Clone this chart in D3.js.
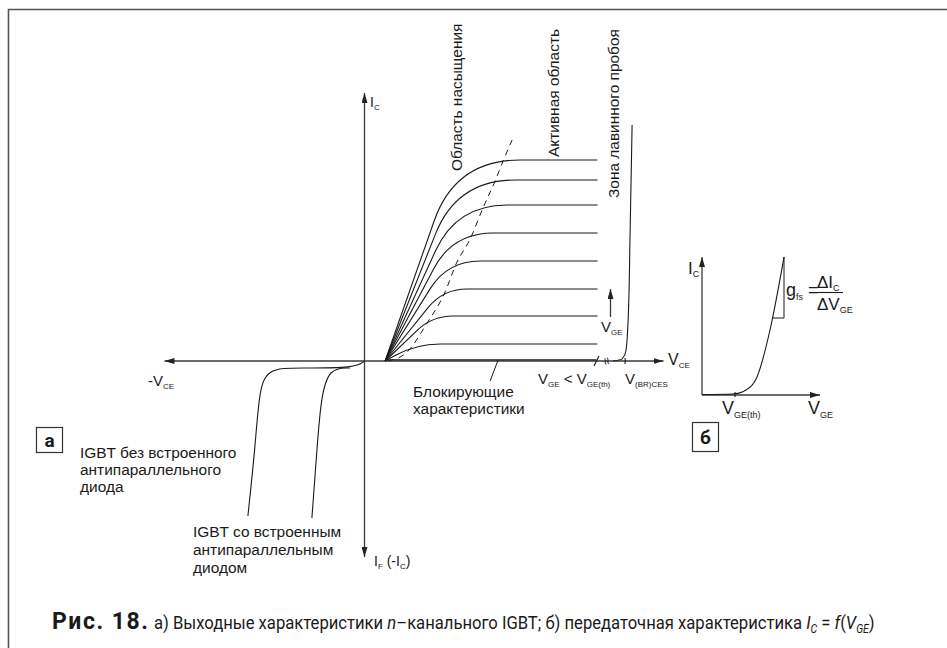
<!DOCTYPE html>
<html>
<head>
<meta charset="utf-8">
<script src="https://cdn.jsdelivr.net/npm/d3@7"></script>
<style>
  body { margin: 0; background: #fff; }
  text { font-family: "Liberation Sans", Arial, sans-serif; fill: #1a1a1a; }
</style>
</head>
<body>
<svg id="fig" width="947" height="648"></svg>
<script>
// ---- Output characteristics I_C(V_CE), one curve per gate voltage step ----
const satCurrent   = [10.05, 9.05, 7.8, 6.4, 5.0, 3.6, 2.25, 0.85];
const cornerVce    = [4.55, 4.62, 4.6, 4.4, 4.15, 3.93, 3.38, 2.58];
const flatStartVce = [7.78, 7.53, 7.13, 6.43, 5.78, 5.13, 4.43, 3.78];
const kneeVce = 1.03;          // curves leave the V_CE axis here
const flatEndVce = 11.65;      // right end of the family
const blockingCurrent = 0.06;  // blocking characteristic, V_GE < V_GE(th)

// saturation / active region boundary (dashed)
const boundary = [[1.18, 0], [2.13, 0.45], [3.13, 1.9], [4.03, 3.45], [4.58, 4.85],
                  [5.33, 6.2], [5.88, 7.55], [6.53, 9.0], [6.93, 10.0], [7.38, 11.05]];
// avalanche breakdown branch
const breakdown = [[12.43, 0], [12.88, 0.1], [13.08, 0.55], [13.18, 2.05], [13.28, 6.4], [13.38, 11.8]];
// reverse conduction: without / with the built-in antiparallel diode
const diodeOuter = [[0, 0], [-0.43, -0.35], [-3.23, -0.35], [-4.93, -0.35], [-5.28, -1.7], [-5.48, -4.45], [-5.83, -7.75]];
const diodeInner = [[-0.73, -0.35], [-1.78, -0.35], [-2.18, -1.85], [-2.38, -4.45], [-2.63, -7.85]];
const vceRange = [-10, 14.95];
const icRange  = [-9.8, 13.4];
const breakVce = 11.6, breakdownVce = 13.03;

// ---- Transfer characteristic I_C(V_GE) ----
const transfer = [[0, 0.05], [3.1, 0.1], [4.4, 0.5], [5.5, 1.8], [6.8, 6.5], [8.2, 13.8]];
const gfsTriangle = [[7.1, 7.7], [8.2, 7.7], [8.2, 13.8]];
const vgeThreshold = 3.3;
const vgeRange = [0, 11.8];
const icTransferRange = [0, 13.8];

const svg = d3.select("#fig");
const INK = "#1a1a1a", AXIS = "#3a3a3a";

// arrowhead
const defs = svg.append("defs");
defs.append("marker").attr("id", "arr")
  .attr("viewBox", "0 0 10 10").attr("refX", 10).attr("refY", 5)
  .attr("markerWidth", 10).attr("markerHeight", 6)
  .attr("markerUnits", "userSpaceOnUse").attr("preserveAspectRatio", "none")
  .attr("orient", "auto")
  .append("path").attr("d", "M0,0 L10,5 L0,10 Z").attr("fill", "#222");

// frame
svg.append("path").attr("d", "M8.5,648 V9.5 H947")
  .attr("fill", "none").attr("stroke", "#555").attr("stroke-width", 1.6);

// body text size: fit the Arial-like face to the set width of the labels
const probe = svg.append("g").attr("opacity", 0);
const probes = [["IGBT без встроенного", 158], ["Блокирующие", 105],
                ["Зона лавинного пробоя", 160], ["Область насыщения", 148]];
let ratio = 0;
probes.forEach(([s, w]) => {
  const t = probe.append("text").style("font-size", "15px").text(s);
  ratio += w / t.node().getComputedTextLength();
});
probe.remove();
const FS = Math.max(14, Math.min(18, 15 * ratio / probes.length));

// ---- panel a scales ----
const x = d3.scaleLinear().domain(vceRange).range([164.5, 663.5]);
const y = d3.scaleLinear().domain(icRange).range([557, 93]);

const gA = svg.append("g");

// axes
function axisLine(g, x1, y1, x2, y2) {
  g.append("line").attr("x1", x1).attr("y1", y1).attr("x2", x2).attr("y2", y2)
    .attr("stroke", AXIS).attr("stroke-width", 1.3).attr("marker-end", "url(#arr)");
}
axisLine(gA, x(0), y(0), x(vceRange[0]), y(0));
axisLine(gA, x(0), y(0), x(vceRange[1]), y(0));
axisLine(gA, x(0), y(0), x(0), y(icRange[1]));
axisLine(gA, x(0), y(0), x(0), y(icRange[0]));

// output curve family: straight rise, rounded knee, flat saturation
satCurrent.forEach((ic, i) => {
  const S = [x(kneeVce), y(0)];
  const C = [x(cornerVce[i]), y(ic)];
  const P2 = [x(flatStartVce[i]), y(ic)];
  const E = [x(flatEndVce), y(ic)];
  const leg = P2[0] - C[0];
  const dS = Math.hypot(S[0] - C[0], S[1] - C[1]);
  const d1 = Math.min(leg, 0.7 * dS);
  const P1 = [C[0] + (S[0] - C[0]) * d1 / dS, C[1] + (S[1] - C[1]) * d1 / dS];
  const p = d3.path();
  p.moveTo(S[0], S[1]);
  p.lineTo(P1[0], P1[1]);
  p.quadraticCurveTo(C[0], C[1], P2[0], P2[1]);
  p.lineTo(E[0], E[1]);
  gA.append("path").attr("d", p.toString())
    .attr("fill", "none").attr("stroke", INK).attr("stroke-width", 1.1);
});

// blocking characteristic
gA.append("line").attr("x1", x(kneeVce)).attr("x2", x(breakVce))
  .attr("y1", y(blockingCurrent)).attr("y2", y(blockingCurrent))
  .attr("stroke", INK).attr("stroke-width", 1.2);

// saturation boundary
gA.append("path").datum(boundary)
  .attr("d", d3.line().x(d => x(d[0])).y(d => y(d[1])).curve(d3.curveMonotoneX))
  .attr("fill", "none").attr("stroke", INK).attr("stroke-width", 1)
  .attr("stroke-dasharray", "6,5");

// breakdown branch
gA.append("path").datum(breakdown)
  .attr("d", d3.line().x(d => x(d[0])).y(d => y(d[1])).curve(d3.curveMonotoneY))
  .attr("fill", "none").attr("stroke", INK).attr("stroke-width", 1.1);

// reverse branches
const lineBasis = d3.line().x(d => x(d[0])).y(d => y(d[1])).curve(d3.curveBasis);
[diodeOuter, diodeInner].forEach(d => {
  gA.append("path").datum(d).attr("d", lineBasis)
    .attr("fill", "none").attr("stroke", INK).attr("stroke-width", 1.1);
});

// axis break and V(BR)CES tick
gA.append("line").attr("x1", x(breakVce) - 2.5).attr("x2", x(breakVce) + 2.5)
  .attr("y1", y(0) + 5).attr("y2", y(0) - 5).attr("stroke", INK).attr("stroke-width", 1.1);
gA.append("text").attr("transform", `translate(${x(breakVce) + 10},${y(0)}) rotate(75)`)
  .attr("text-anchor", "middle").attr("dy", "0.32em")
  .style("font-size", "13px").text("≈");
gA.append("line").attr("x1", x(breakdownVce)).attr("x2", x(breakdownVce))
  .attr("y1", y(0) - 3).attr("y2", y(0) + 3).attr("stroke", INK).attr("stroke-width", 1.1);

// V_GE increase arrow
axisLine(gA, x(12.3), y(2.2), x(12.3), y(3.6));

// leader for blocking label
gA.append("line").attr("x1", x(6.68)).attr("x2", x(6.28))
  .attr("y1", y(0.05)).attr("y2", y(-1.0))
  .attr("stroke", INK).attr("stroke-width", 1);

// text with subscripts; parts: [text, size, "sub"|"", italic]
function label(g, px, py, parts, opts = {}) {
  const t = g.append("text").attr("x", px).attr("y", py);
  if (opts.anchor) t.attr("text-anchor", opts.anchor);
  let shift = 0;
  parts.forEach(([s, size, kind, it]) => {
    const target = kind === "sub" ? (opts.subShift || 3) : 0;
    const ts = t.append("tspan").text(s).style("font-size", size + "px");
    if (target !== shift) { ts.attr("dy", target - shift); shift = target; }
    if (it) ts.style("font-style", "italic");
  });
  return t;
}

label(gA, 370, 107, [["I", 14], ["C", 8, "sub"]]);
label(gA, 374, 566, [["I", 14], ["F", 8, "sub"], [" (-I", 14], ["C", 8, "sub"], [")", 14]]);
label(gA, 148, 386, [["-V", 15], ["CE", 8, "sub"]]);
label(gA, 668, 365, [["V", 16], ["CE", 8, "sub"]]);
label(gA, 538, 384, [["V", 15], ["GE", 8, "sub"], [" < V", 15], ["GE(th)", 8, "sub"]]);
label(gA, 625, 384, [["V", 15], ["(BR)CES", 8, "sub"]]);
label(gA, 601, 332, [["V", 15], ["GE", 8, "sub"]]);

function plain(g, px, py, s) {
  return g.append("text").attr("x", px).attr("y", py).style("font-size", FS + "px").text(s);
}
plain(gA, 413, 397, "Блокирующие");
plain(gA, 413, 414, "характеристики");
plain(gA, 80, 458, "IGBT без встроенного");
plain(gA, 80, 475, "антипараллельного");
plain(gA, 80, 492, "диода");
plain(gA, 193, 537, "IGBT со встроенным");
plain(gA, 193, 555, "антипараллельным");
plain(gA, 193, 573, "диодом");

// vertical region names
[["Область насыщения", 462, 171], ["Активная область", 559, 157], ["Зона лавинного пробоя", 619, 198]]
  .forEach(([s, bx, by]) => {
    gA.append("text").attr("transform", `translate(${bx},${by}) rotate(-90)`)
      .style("font-size", FS + "px").text(s);
  });

// panel tags
function tag(px, py, w, h, s) {
  svg.append("rect").attr("x", px).attr("y", py).attr("width", w).attr("height", h)
    .attr("fill", "#fff").attr("stroke", "#333").attr("stroke-width", 1.2);
  svg.append("text").attr("x", px + w / 2).attr("y", py + h / 2).attr("dy", "0.36em")
    .attr("text-anchor", "middle")
    .style("font-family", "Roboto, sans-serif").style("font-weight", "bold")
    .style("font-size", "19px").text(s);
}
tag(36.5, 427.5, 26, 25, "а");
tag(692.5, 422.5, 26, 29, "б");

// ---- panel б ----
const xb = d3.scaleLinear().domain(vgeRange).range([702, 820]);
const yb = d3.scaleLinear().domain(icTransferRange).range([395, 257]);
const gB = svg.append("g");
axisLine(gB, xb(0), yb(0), xb(vgeRange[1]), yb(0));
axisLine(gB, xb(0), yb(0), xb(0), yb(icTransferRange[1]));
gB.append("path").datum(transfer)
  .attr("d", d3.line().x(d => xb(d[0])).y(d => yb(d[1])).curve(d3.curveMonotoneX))
  .attr("fill", "none").attr("stroke", INK).attr("stroke-width", 1.1);
gB.append("path").datum(gfsTriangle)
  .attr("d", d3.line().x(d => xb(d[0])).y(d => yb(d[1])))
  .attr("fill", "none").attr("stroke", INK).attr("stroke-width", 1);
gB.append("line").attr("x1", xb(vgeThreshold)).attr("x2", xb(vgeThreshold))
  .attr("y1", yb(0) - 3).attr("y2", yb(0) + 2).attr("stroke", INK).attr("stroke-width", 1.1);

label(gB, 688, 274, [["I", 17], ["C", 9, "sub"]]);
label(gB, 722, 414, [["V", 18], ["GE(th)", 9, "sub"]], { subShift: 4 });
label(gB, 808, 414, [["V", 18], ["GE", 9, "sub"]], { subShift: 4 });
label(gB, 786, 296, [["g", 18], ["fs", 9, "sub"], [" =", 18]], { subShift: 4 });
label(gB, 817, 288, [["ΔI", 17], ["C", 9, "sub"]], { subShift: 3 });
label(gB, 817, 310, [["ΔV", 17], ["GE", 9, "sub"]], { subShift: 3 });
gB.append("line").attr("x1", 817).attr("x2", 843).attr("y1", 292.5).attr("y2", 292.5)
  .attr("stroke", INK).attr("stroke-width", 1.1);

// ---- caption ----
svg.append("text").attr("x", 52).attr("y", 629)
  .attr("textLength", 96).attr("lengthAdjust", "spacing")
  .style("font-family", "Roboto, sans-serif").style("font-weight", "bold")
  .style("font-size", "23px").text("Рис. 18.");

const capG = svg.append("g");
const cap = label(capG, 0, 0, [
  ["а) Выходные характеристики ", 19], ["n", 19, "", true],
  ["–канального IGBT; б) передаточная характеристика ", 19],
  ["I", 19, "", true], ["C", 12, "sub", true], [" = ", 19], ["f", 19, "", true], ["(", 19],
  ["V", 19, "", true], ["GE", 12, "sub", true], [")", 19]
], { subShift: 4 }).style("font-family", "Roboto, sans-serif");
const capW = cap.node().getComputedTextLength();
capG.attr("transform", `translate(154,629) scale(${721 / capW},1)`);
</script>
</body>
</html>
